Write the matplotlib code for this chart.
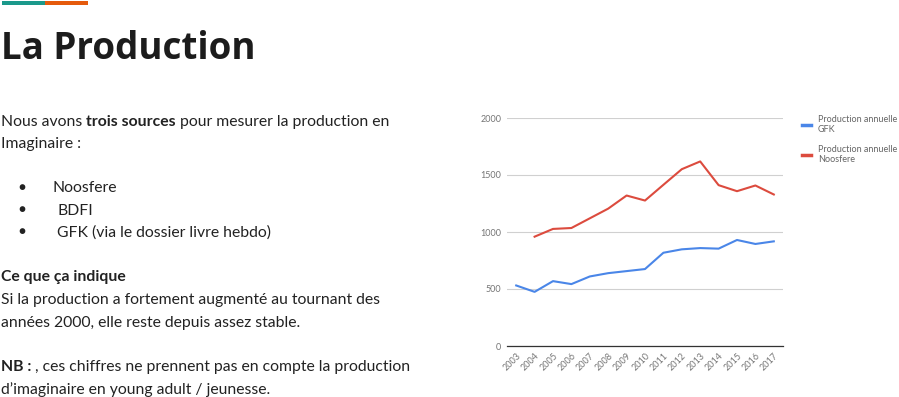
import matplotlib.pyplot as plt
from matplotlib.patches import Rectangle

years = ['2003', '2004', '2005', '2006', '2007', '2008', '2009', '2010',
         '2011', '2012', '2013', '2014', '2015', '2016', '2017']
gfk = [531, 475, 569, 543, 610, 639, 657, 675, 818, 848, 859, 854, 930, 895, 918]
noosfere = [None, 959, 1027, 1035, 1120, 1205, 1320, 1276, 1414, 1551, 1619,
            1411, 1358, 1408, 1329]
y_ticks = [0, 500, 1000, 1500, 2000]

W, H = 899, 397
fig = plt.figure(figsize=(W / 100, H / 100), dpi=100)
plt.rcParams['font.family'] = ['Lato', 'DejaVu Sans']


def fx(px):
    return px / W


def fy(py):
    return 1 - py / H


# coloured bar at the top
fig.patches.append(Rectangle((fx(2), fy(5.3)), fx(43), 4.3 / H, transform=fig.transFigure,
                             color='#1b998b', lw=0))
fig.patches.append(Rectangle((fx(45), fy(5.3)), fx(43), 4.3 / H, transform=fig.transFigure,
                             color='#e55a0c', lw=0))

fig.text(fx(1), fy(49), 'La Production', fontsize=26.5, fontweight='bold', color='#1c1c1c',
         va='center', ha='left', family=['Open Sans', 'DejaVu Sans'])

fig.canvas.draw()
renderer = fig.canvas.get_renderer()


def rich_line(x, y, parts, size=11.3):
    # parts: list of (text, bold)
    y += 2
    for txt, bold in parts:
        t = fig.text(fx(x), fy(y), txt, fontsize=size, color='#222222', va='center', ha='left',
                     fontweight='bold' if bold else 'normal')
        x += t.get_window_extent(renderer).width


rich_line(1, 120, [('Nous avons ', False), ('trois sources', True),
                   (' pour mesurer la production en', False)])
rich_line(1, 142, [('Imaginaire :', False)])
for yy, xx, label in [(186, 53, 'Noosfere'), (209, 57, 'BDFI'), (231, 57, 'GFK (via le dossier livre hebdo)')]:
    fig.text(fx(22), fy(yy + 1), '\u25cf', fontsize=8.5, color='#222222', va='center', ha='center')
    rich_line(xx, yy, [(label, False)])
rich_line(1, 275, [('Ce que ça indique', True)])
rich_line(1, 298, [('Si la production a fortement augmenté au tournant des', False)])
rich_line(1, 321, [('années 2000, elle reste depuis assez stable.', False)])
rich_line(1, 365, [('NB : ', True), (', ces chiffres ne prennent pas en compte la production', False)])
rich_line(1, 388, [('d\u2019imaginaire en young adult / jeunesse.', False)])

# chart
ax = fig.add_axes([fx(507), fy(346), fx(276), 228 / H])
xs = list(range(len(years)))
ax.plot(xs, gfk, color='#4a86e8', lw=1.5, label='Production annuelle\nGFK')
nx = [i for i, v in enumerate(noosfere) if v is not None]
ax.plot(nx, [noosfere[i] for i in nx], color='#dc4b3e', lw=1.5, label='Production annuelle\nNoosfere')
ax.set_xlim(-0.5, len(years) - 0.5)
ax.set_ylim(0, 2000)
ax.set_yticks(y_ticks)
ax.set_yticklabels([str(v) for v in y_ticks])
ax.set_xticks(xs)
ax.set_xticklabels(years, rotation=45, ha='right', rotation_mode='anchor')
ax.tick_params(length=0, labelsize=6.5, colors='#757575', pad=4)
ax.grid(axis='y', color='#d0d0d0', lw=0.8)
ax.set_axisbelow(True)
for s in ['top', 'right', 'left']:
    ax.spines[s].set_visible(False)
ax.spines['bottom'].set_color('#333333')
ax.spines['bottom'].set_linewidth(0.9)

leg = ax.legend(loc='upper left', bbox_to_anchor=(fx(798 - 507) / fx(276), 1.03), frameon=False,
                fontsize=6.5, handlelength=1.0, handletextpad=0.8, labelspacing=1.2,
                borderaxespad=0)
for t in leg.get_texts():
    t.set_color('#666666')
for l in leg.get_lines():
    l.set_linewidth(2.5)

fig.savefig('out.png', dpi=100)
